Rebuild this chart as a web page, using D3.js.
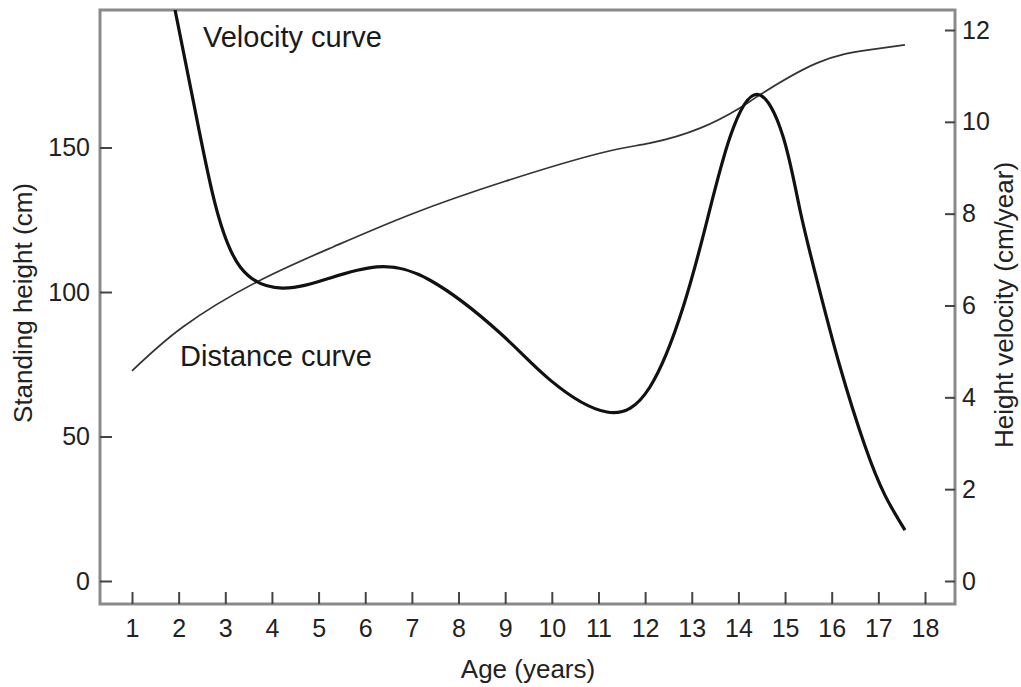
<!DOCTYPE html>
<html>
<head>
<meta charset="utf-8">
<script src="https://cdn.jsdelivr.net/npm/d3@7"></script>
<style>
  html, body { margin: 0; padding: 0; background: #fff; }
  svg { display: block; font-family: "Liberation Sans", Arial, Helvetica, sans-serif; }
</style>
</head>
<body>
<svg id="chart" width="1021" height="687"></svg>
<script>
// ---- data ----
const ageTicks = [1,2,3,4,5,6,7,8,9,10,11,12,13,14,15,16,17,18];
const heightTicks = [0, 50, 100, 150];
const velocityTicks = [0, 2, 4, 6, 8, 10, 12];

const velocityAges = [1.92, 2.33, 2.76, 3.32, 4.22, 5.25, 6.25, 7.39, 8.89, 9.96, 11.18, 12.10, 12.81, 13.33, 13.82, 14.40, 14.96, 15.32, 15.71, 16.18, 16.71, 17.14, 17.57];
const velocityValues = [12.45, 10.37, 8.30, 6.84, 6.38, 6.60, 6.84, 6.55, 5.40, 4.38, 3.68, 4.22, 5.95, 7.86, 9.67, 10.60, 9.67, 8.08, 6.45, 4.66, 2.95, 1.87, 1.11];

const distanceAges = [1.0, 2.09, 3.68, 5.31, 7.0, 9.0, 11.03, 12.1, 13.18, 14.03, 14.46, 15.68, 16.76, 17.57];
const distanceValues = [72.7, 87.9, 103.5, 115.6, 127.0, 138.3, 148.0, 151.5, 156.7, 163.7, 168.2, 179.2, 183.7, 185.5];

// ---- layout ----
const svg = d3.select("#chart");
const frame = { left: 100, top: 10, right: 955, bottom: 604 };

const x = d3.scaleLinear().domain([1, 18]).range([132, 925]);
const yL = d3.scaleLinear().domain([0, 150]).range([581, 147.5]);
const yR = d3.scaleLinear().domain([0, 12]).range([581, 30]);

const tickFont = 25;
const textColor = "#222";

// clip
svg.append("defs").append("clipPath").attr("id", "plotclip")
  .append("rect")
  .attr("x", frame.left).attr("y", frame.top)
  .attr("width", frame.right - frame.left).attr("height", frame.bottom - frame.top);

// frame
svg.append("rect")
  .attr("x", frame.left).attr("y", frame.top)
  .attr("width", frame.right - frame.left).attr("height", frame.bottom - frame.top)
  .attr("fill", "none").attr("stroke", "#8a8a8a").attr("stroke-width", 3);

function styleAxis(g) {
  g.select(".domain").remove();
  g.selectAll(".tick line").attr("stroke", "#444").attr("stroke-width", 2);
  g.selectAll(".tick text").attr("fill", textColor).attr("font-size", tickFont)
    .attr("font-family", "Liberation Sans, Arial, sans-serif");
}

svg.append("g").attr("transform", `translate(${frame.left},0)`)
  .call(d3.axisLeft(yL).tickValues(heightTicks).tickFormat(d3.format("d"))
    .tickSizeInner(-12).tickSizeOuter(0).tickPadding(10))
  .call(styleAxis);

svg.append("g").attr("transform", `translate(${frame.right},0)`)
  .call(d3.axisRight(yR).tickValues(velocityTicks).tickFormat(d3.format("d"))
    .tickSizeInner(-10).tickSizeOuter(0).tickPadding(7))
  .call(styleAxis);

svg.append("g").attr("transform", `translate(0,${frame.bottom})`)
  .call(d3.axisBottom(x).tickValues(ageTicks).tickFormat(d3.format("d"))
    .tickSizeInner(-12).tickSizeOuter(0).tickPadding(15))
  .call(styleAxis);

// curves
const distLine = d3.line()
  .x((d, i) => x(distanceAges[i]))
  .y(d => yL(d))
  .curve(d3.curveNatural);

const velLine = d3.line()
  .x((d, i) => x(velocityAges[i]))
  .y(d => yR(d))
  .curve(d3.curveNatural);

const plot = svg.append("g").attr("clip-path", "url(#plotclip)");

plot.append("path").datum(distanceValues)
  .attr("d", distLine).attr("fill", "none")
  .attr("stroke", "#333").attr("stroke-width", 1.7);

plot.append("path").datum(velocityValues)
  .attr("d", velLine).attr("fill", "none")
  .attr("stroke", "#111").attr("stroke-width", 3.2);

// annotations
svg.append("text").attr("x", 203).attr("y", 47)
  .attr("font-size", 29).attr("fill", "#1a1a1a").text("Velocity curve");
svg.append("text").attr("x", 180).attr("y", 366)
  .attr("font-size", 29).attr("fill", "#1a1a1a").text("Distance curve");

// axis titles
svg.append("text").attr("x", 528).attr("y", 678).attr("text-anchor", "middle")
  .attr("font-size", 26).attr("fill", textColor).text("Age (years)");

svg.append("text").attr("transform", "translate(32,303) rotate(-90)")
  .attr("text-anchor", "middle").attr("font-size", 26).attr("fill", textColor)
  .text("Standing height (cm)");

svg.append("text").attr("transform", "translate(1013,305) rotate(-90)")
  .attr("text-anchor", "middle").attr("font-size", 26).attr("fill", textColor)
  .text("Height velocity (cm/year)");
</script>
</body>
</html>
